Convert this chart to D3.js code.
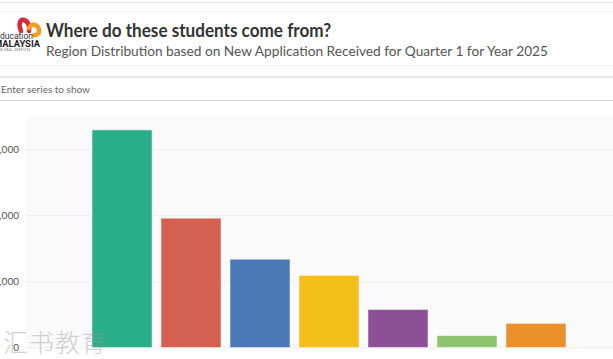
<!DOCTYPE html>
<html>
<head>
<meta charset="utf-8">
<script src="https://cdn.jsdelivr.net/npm/d3@7"></script>
<style>
  html, body { margin: 0; padding: 0; background: #fff; overflow: hidden; }
  #chart { width: 613px; height: 359px; }
</style>
</head>
<body>
<div id="chart"></div>
<script>
// Region distribution, Q1 2025
const regions = ["Asia", "Middle East", "Africa", "ASEAN", "Europe", "Americas", "Oceania"];
const applications = [6580, 3910, 2670, 2180, 1150, 360, 730];
const barColors = ["#29ae87", "#d36050", "#4b79b6", "#f4be1b", "#8c5097", "#8fc46e", "#e98f2c"];
const yTicks = [0, 2000, 4000, 6000];

const width = 613, height = 359;
const plot = { left: 26, right: 632, top: 116, bottom: 347.5 };

const svg = d3.select("#chart")
  .append("svg")
  .attr("width", width)
  .attr("height", height)
  .style("font-family", "'Source Sans Pro', Lato, sans-serif");

// header lines
svg.append("line").attr("x1", 0).attr("x2", width).attr("y1", 2.5).attr("y2", 2.5)
  .attr("stroke", "#e6e6e6");
svg.append("line").attr("x1", 0).attr("x2", width).attr("y1", 11.5).attr("y2", 11.5)
  .attr("stroke", "#f5f5f5");
svg.append("line").attr("x1", 0).attr("x2", width).attr("y1", 65.5).attr("y2", 65.5)
  .attr("stroke", "#f3f3f3");
svg.append("rect").attr("x", 0).attr("y", 76).attr("width", width).attr("height", 2)
  .attr("fill", "#e9e9e9");
svg.append("line").attr("x1", 0).attr("x2", width).attr("y1", 100.5).attr("y2", 100.5)
  .attr("stroke", "#d4d4d4");

// logo (partly cut off on the left)
const logo = svg.append("g");
logo.append("path")
  .attr("d", "M21,31 C18,24 20,19 24,20 C28,21 30,26 29,31")
  .attr("fill", "none").attr("stroke", "#d8283f").attr("stroke-width", 4.5).attr("stroke-linecap", "round");
logo.append("path")
  .attr("d", "M29,28 C31,23 37,24 39,29 C40,33 37,36 34,35")
  .attr("fill", "none").attr("stroke", "#f39c1f").attr("stroke-width", 4.5).attr("stroke-linecap", "round");
logo.append("text").attr("x", -4.5).attr("y", 39).attr("font-size", 8.5).attr("fill", "#333")
  .style("font-family", "Roboto, sans-serif").text("education");
logo.append("text").attr("x", -6).attr("y", 47).attr("font-size", 8.5).attr("font-weight", 700)
  .attr("fill", "#222").attr("textLength", 46).attr("lengthAdjust", "spacingAndGlyphs")
  .style("font-family", "Roboto, sans-serif").text("MALAYSIA");
logo.append("text").attr("x", 0).attr("y", 51).attr("font-size", 2.6).attr("fill", "#444")
  .attr("letter-spacing", 0.6).style("font-family", "Roboto, sans-serif").text("GLOBAL SERVICES");

// titles
svg.append("text").attr("x", 46).attr("y", 37)
  .attr("font-size", 19.5).attr("font-weight", 700).attr("fill", "#333")
  .attr("textLength", 285).attr("lengthAdjust", "spacingAndGlyphs")
  .text("Where do these students come from?");
svg.append("text").attr("x", 46).attr("y", 55.5)
  .attr("font-size", 14).attr("fill", "#555")
  .attr("textLength", 502).attr("lengthAdjust", "spacingAndGlyphs")
  .text("Region Distribution based on New Application Received for Quarter 1 for Year 2025");

svg.append("text").attr("x", 1).attr("y", 92.5)
  .attr("font-size", 10).attr("fill", "#666")
  .text("Enter series to show");

// plot background
svg.append("rect")
  .attr("x", plot.left).attr("y", plot.top)
  .attr("width", plot.right - plot.left).attr("height", plot.bottom - plot.top)
  .attr("fill", "#fafafa");

const x = d3.scaleBand()
  .domain(regions)
  .range([plot.left, plot.right])
  .paddingInner(0.13)
  .paddingOuter(0.957);

const y = d3.scaleLinear()
  .domain([0, 7000])
  .range([plot.bottom, plot.top]);

// grid + y labels
svg.append("g")
  .attr("transform", `translate(${plot.left},0)`)
  .call(d3.axisLeft(y).tickValues(yTicks).tickSize(-(plot.right - plot.left)).tickPadding(7)
    .tickFormat(d3.format(",")))
  .call(g => g.select(".domain").remove())
  .call(g => g.selectAll(".tick line").attr("stroke", "#ececec"))
  .call(g => g.selectAll(".tick text").attr("fill", "#555").attr("font-size", 10)
    .style("font-family", "'Source Sans Pro', Lato, sans-serif"));

// bars
svg.selectAll(".bar")
  .data(regions)
  .join("rect")
  .attr("class", "bar")
  .attr("x", d => x(d))
  .attr("y", (d, i) => y(applications[i]))
  .attr("width", x.bandwidth())
  .attr("height", (d, i) => y(0) - y(applications[i]))
  .attr("fill", (d, i) => barColors[i])
  .attr("stroke", "rgba(255,255,255,0.5)")
  .attr("stroke-width", 1);

// x axis (labels fall below the visible area)
svg.append("g")
  .attr("transform", `translate(0,${plot.bottom})`)
  .call(d3.axisBottom(x).tickSize(0).tickPadding(14))
  .call(g => g.select(".domain").remove())
  .call(g => g.selectAll("text").attr("fill", "#555").attr("font-size", 10));

// watermark
svg.append("text").attr("x", 3).attr("y", 352)
  .attr("font-size", 25).attr("fill", "#999").attr("opacity", 0.45)
  .attr("letter-spacing", 1)
  .style("font-family", "'Noto Sans CJK SC', sans-serif")
  .style("font-weight", 300)
  .text("汇书教育");
</script>
</body>
</html>
